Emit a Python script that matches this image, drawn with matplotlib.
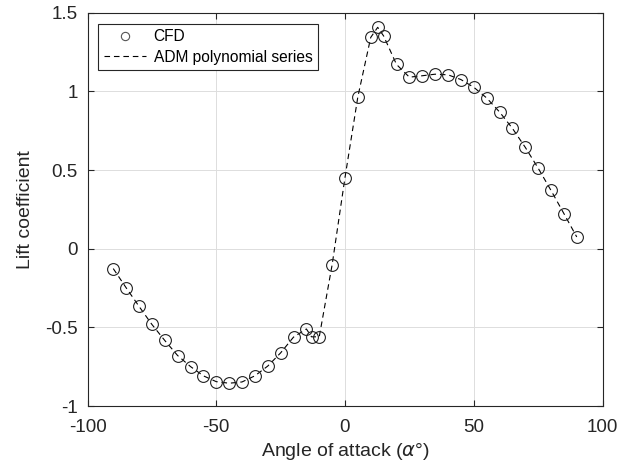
import matplotlib
matplotlib.use("Agg")
import matplotlib.pyplot as plt

plt.rcParams['font.family'] = ['Liberation Sans', 'DejaVu Sans']
plt.rcParams['mathtext.fontset'] = 'dejavusans'

alpha = [-90, -85, -80, -75, -70, -65, -60, -55, -50, -45, -40, -35, -30, -25,
         -20, -15, -13, -10, -5, 0, 5, 10, 12.7, 15, 20, 25, 30, 35, 40, 45,
         50, 55, 60, 65, 70, 75, 80, 85, 90]
cl_cfd = [-0.126, -0.248, -0.366, -0.481, -0.583, -0.679, -0.749, -0.808, -0.845,
          -0.855, -0.847, -0.808, -0.746, -0.662, -0.562, -0.51, -0.56, -0.56,
          -0.102, 0.453, 0.967, 1.344, 1.408, 1.353, 1.172, 1.091, 1.10, 1.11,
          1.106, 1.076, 1.027, 0.959, 0.87, 0.766, 0.645, 0.513, 0.371, 0.224, 0.075]
cl_adm = cl_cfd

fig = plt.figure(figsize=(6.25, 4.76), dpi=100)
ax = fig.add_axes([0.140, 0.147, 0.824, 0.826])

ax.plot(alpha, cl_cfd, linestyle='none', marker='o', markersize=8.5,
        markerfacecolor='none', markeredgecolor='#222222', markeredgewidth=0.8,
        label='CFD', zorder=3)
ax.plot(alpha, cl_adm, linestyle=(0, (5, 3.5)), color='black', linewidth=0.8,
        label='ADM polynomial series', zorder=2)

ax.set_xlim(-100, 100)
ax.set_ylim(-1, 1.5)
ax.set_xticks([-100, -50, 0, 50, 100])
ax.set_yticks([-1, -0.5, 0, 0.5, 1, 1.5])
ax.set_yticklabels(['-1', '-0.5', '0', '0.5', '1', '1.5'])
ax.set_xticklabels(['-100', '-50', '0', '50', '100'])
ax.grid(True, color='#dddddd', linewidth=0.7)
ax.set_axisbelow(True)
ax.tick_params(direction='in', labelsize=13.5, length=4, color='#262626',
               top=True, right=True, labelcolor='#262626')
ax.tick_params(axis='x', pad=9)
ax.tick_params(axis='y', pad=7)
for s in ax.spines.values():
    s.set_color('#262626')
    s.set_linewidth(0.8)

ax.set_xlabel(r'Angle of attack ($\alpha$°)', fontsize=14, color='#262626', labelpad=4)
ax.set_ylabel('Lift coefficient', fontsize=14, color='#262626', labelpad=8)

leg = ax.legend(loc='upper left', fontsize=11.2, frameon=True, fancybox=False,
                edgecolor='#262626', framealpha=1, borderaxespad=0.7,
                handlelength=2.7, handletextpad=0.5, borderpad=0.35,
                labelspacing=0.35, markerscale=0.7)
leg.get_frame().set_linewidth(0.8)
leg.legend_handles[0].set_markeredgecolor('#555555')

fig.savefig('out.png', dpi=100)
